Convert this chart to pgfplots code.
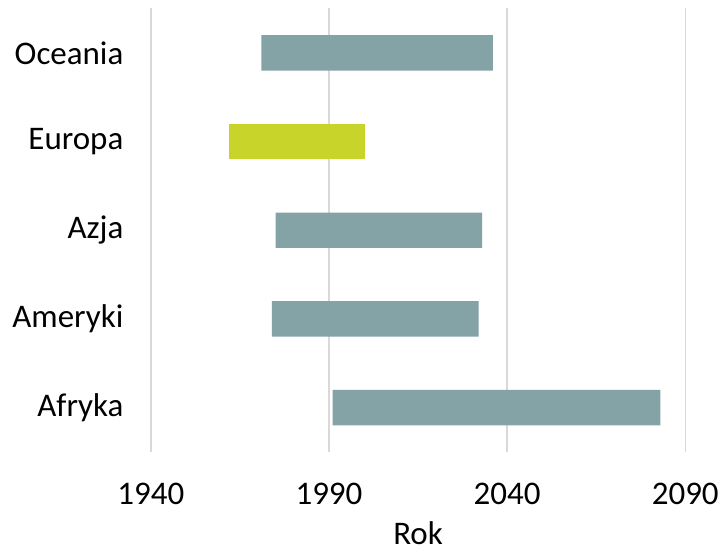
\documentclass[border=0pt]{standalone}
\usepackage{pgfplots}
\pgfplotsset{compat=1.18}
\usepackage{fontspec}
\setmainfont{Carlito}
\definecolor{barteal}{HTML}{84A3A7}
\definecolor{baryel}{HTML}{C8D42A}
\definecolor{gridc}{HTML}{D9D9D9}
\begin{document}
\begin{tikzpicture}
\path (0,0) rectangle (722pt,554pt);
\begin{axis}[
  at={(151pt,101.5pt)}, anchor=south west,
  scale only axis,
  width=535pt, height=444pt,
  xbar stacked,
  bar width=0.4,
  xmin=1940, xmax=2090,
  ymin=-0.5, ymax=4.5,
  xtick={1940,1990,2040,2090},
  ytick={0,1,2,3,4},
  yticklabels={Afryka,Ameryki,Azja,Europa,Oceania},
  axis line style={draw=none},
  major tick length=0pt,
  xmajorgrids,
  major grid style={gridc, line width=1.5pt},
  /pgf/number format/assume math mode=true,
  /pgf/number format/set thousands separator={},
  font=\fontsize{33}{38}\selectfont,
  xticklabel style={anchor=north, yshift=-28pt},
  yticklabel style={anchor=east, xshift=-24pt},
  xlabel={Rok},
  xlabel style={anchor=north, yshift=-12pt, inner sep=1pt},
  clip=false,
]
\addplot[draw=none, fill=none] coordinates {(1991,0) (1974,1) (1975,2) (1962,3) (1971,4)};
\addplot[draw=none, fill=barteal] coordinates {(92,0) (58,1) (58,2) (0,3) (65,4)};
\addplot[draw=none, fill=baryel] coordinates {(0,0) (0,1) (0,2) (38,3) (0,4)};
\end{axis}
\end{tikzpicture}
\end{document}
